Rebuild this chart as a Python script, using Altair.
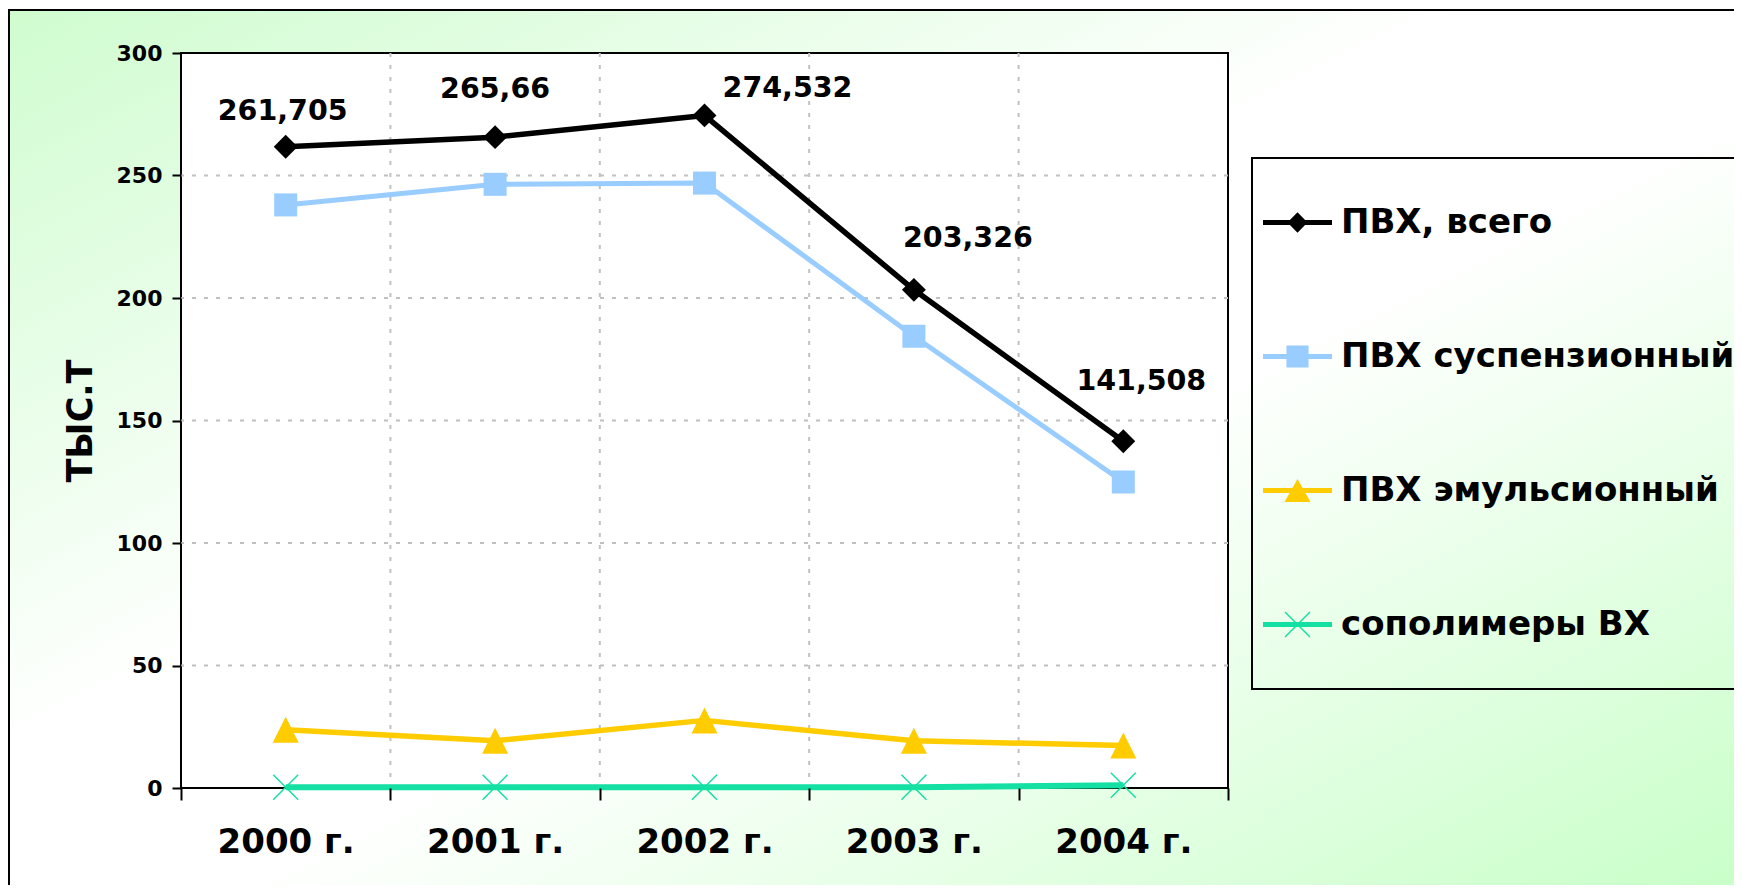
import altair as alt
import pandas as pd

# ---------------- data ----------------
years = ["2000 г.", "2001 г.", "2002 г.", "2003 г.", "2004 г."]
series_names = ["ПВХ, всего", "ПВХ суспензионный", "ПВХ эмульсионный", "сополимеры ВХ"]
pvc_total = [261.705, 265.66, 274.532, 203.326, 141.508]
pvc_susp = [238.0, 246.4, 246.9, 184.4, 124.9]
pvc_emul = [23.8, 19.3, 27.6, 19.3, 17.3]
copolymers = [0.3, 0.3, 0.3, 0.3, 1.1]
total_labels = ["261,705", "265,66", "274,532", "203,326", "141,508"]
y_ticks = [0, 50, 100, 150, 200, 250, 300]
y_grid = [50, 100, 150, 200, 250]
x_grid = years[1:]

# ---------------- styles ----------------
FONT = "DejaVu Sans"
colors = ["#000000", "#99ccff", "#ffcc00", "#14e0a4"]
line_widths = [5.5, 5, 5.5, 6]
marker_paths = [
    "M0,-0.92L0.92,0L0,0.92L-0.92,0Z",
    "M-0.885,-0.885H0.885V0.885H-0.885Z",
    "M0,-1L1,1L-1,1Z",
    "M-1,-0.92L-0.92,-1L1,0.92L0.92,1Z M-1,0.92L0.92,-1L1,-0.92L-0.92,1Z",
]
_bar = "M-1,-0.07H1V0.07H-1Z "
_ext = " M0,-1L0,1.522"
legend_paths = [
    _bar + "M0,-0.3L0.29,0L0,0.3L-0.29,0Z" + _ext,
    _bar + "M-0.32,-0.32H0.32V0.32H-0.32Z" + _ext,
    _bar + "M0,-0.333L0.377,0.333L-0.377,0.333Z" + _ext,
    _bar + "M-0.377,-0.347L-0.347,-0.377L0.377,0.347L0.347,0.377Z "
    "M-0.377,0.347L0.347,-0.377L0.377,-0.347L-0.347,0.377Z" + _ext,
]
label_offsets = [(-3, -36), (0, -48), (83, -27), (54, -52), (18, -60)]

rows = []
for name, vals in zip(series_names, [pvc_total, pvc_susp, pvc_emul, copolymers]):
    for yr, v in zip(years, vals):
        rows.append({"year": yr, "value": v, "series": name})
df = pd.DataFrame(rows)
df_labels = pd.DataFrame({"year": years, "value": pvc_total, "label": total_labels})

# ---------------- scales / axes ----------------
x_scale = alt.Scale(type="band", domain=years, paddingInner=0, paddingOuter=0)
y_scale = alt.Scale(domain=[0, 300], nice=False, zero=True)
x_axis = alt.Axis(
    title=None, labelAngle=0, labelFont=FONT, labelFontSize=34, labelFontWeight="bold",
    labelColor="black", labelPadding=25, tickSize=12, tickColor="black", tickWidth=2,
    tickBand="extent", domain=False, grid=False, zindex=1,
)
y_axis = alt.Axis(
    values=y_ticks, title="ТЫС.Т", titleFont=FONT, titleFontSize=35, titleFontWeight="bold",
    titleColor="black", titlePadding=18, labelFont=FONT, labelFontSize=22,
    labelFontWeight="bold", labelColor="black", labelPadding=10, tickSize=9,
    tickColor="black", tickWidth=2, domain=False, grid=False, zindex=1,
)
color_scale = alt.Scale(domain=series_names, range=colors)


def X(bp=0.5):
    return alt.X("year:N", sort=years, scale=x_scale, axis=x_axis, bandPosition=bp)


def Y():
    return alt.Y("value:Q", scale=y_scale, axis=y_axis)


# ---------------- layers ----------------
bg = alt.Chart(alt.Data(values=[{}])).mark_rect(
    fill=alt.LinearGradient(
        gradient="linear",
        stops=[
            alt.GradientStop(color="#cffccf", offset=0),
            alt.GradientStop(color="#ffffff", offset=0.42),
            alt.GradientStop(color="#ffffff", offset=0.56),
            alt.GradientStop(color="#c8ffc8", offset=1),
        ],
        x1=0, y1=0, x2=1, y2=1,
    ),
    stroke="black", strokeWidth=2,
).encode(x=alt.value(-172), x2=alt.value(1560), y=alt.value(-43), y2=alt.value(840))

plot_bg = alt.Chart(alt.Data(values=[{}])).mark_rect(
    fill="white", stroke="black", strokeWidth=2
).encode(x=alt.value(0), x2=alt.value("width"), y=alt.value(0), y2=alt.value("height"))

grid_h = alt.Chart(pd.DataFrame({"value": y_grid})).mark_rule(
    color="#c0c0c0", strokeWidth=2, strokeDash=[4, 8]
).encode(y=Y())

grid_v = alt.Chart(pd.DataFrame({"year": x_grid})).mark_rule(
    color="#c0c0c0", strokeWidth=2, strokeDash=[4, 8]
).encode(x=X(0))

line_layers = []
for name, col, w in zip(series_names, colors, line_widths):
    line_layers.append(
        alt.Chart(df[df["series"] == name]).mark_line(
            color=col, strokeWidth=w, strokeJoin="round"
        ).encode(x=X(), y=Y())
    )

points = alt.Chart(df).mark_point(filled=True, size=676, opacity=1).encode(
    x=X(), y=Y(),
    color=alt.Color("series:N", scale=color_scale, legend=None),
    shape=alt.Shape("series:N", scale=alt.Scale(domain=series_names, range=marker_paths), legend=None),
)

leg = alt.Legend(title=" ", orient="none", legendX=1071, legendY=105, zindex=1)
legend_layer = alt.Chart(df).transform_filter("false").mark_point(
    filled=True, size=4761, opacity=1
).encode(
    color=alt.Color("series:N", scale=color_scale, legend=leg),
    shape=alt.Shape("series:N", scale=alt.Scale(domain=series_names, range=legend_paths), legend=leg),
)

texts = []
for i, (dx, dy) in enumerate(label_offsets):
    texts.append(
        alt.Chart(df_labels.iloc[[i]]).mark_text(
            dx=dx, dy=dy, font=FONT, fontSize=28.5, fontWeight="bold", color="black",
            align="center", baseline="middle",
        ).encode(x=X(), y=Y(), text="label:N")
    )

chart = alt.layer(
    bg, plot_bg, grid_h, grid_v, *line_layers, points, *texts, legend_layer
).resolve_scale(
    color="independent", shape="independent"
).properties(
    width=1047, height=735,
    padding={"left": 173, "top": 45, "right": 506, "bottom": 97},
    autosize=alt.AutoSizeParams(type="none"),
).configure_view(
    stroke="transparent"
).configure_legend(
    labelFont=FONT, labelFontSize=34, labelFontWeight="bold", labelColor="black",
    labelLimit=1000, labelOffset=9, symbolSize=4761, symbolStrokeWidth=0,
    symbolOpacity=1, symbolOffset=0, padding=11, rowPadding=46,
    titleFontSize=12, titlePadding=7, titleFont=FONT,
    strokeColor="black", strokeWidth=2,
)

chart.save("out.html", embed_options={"renderer": "svg", "actions": False})
